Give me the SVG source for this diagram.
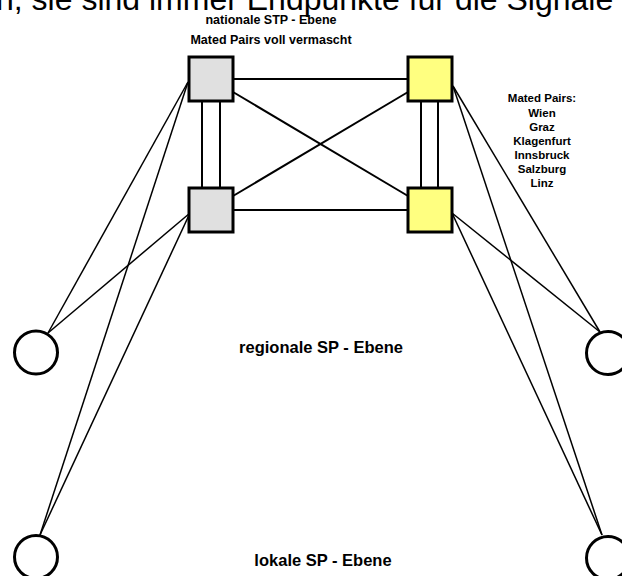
<svg xmlns="http://www.w3.org/2000/svg" width="622" height="576" viewBox="0 0 622 576">
  <style>
    .lbl { font-family: "Liberation Sans", Arial, sans-serif; font-weight: bold; fill: #000; text-anchor: middle; }
    .head { font-family: "Liberation Sans", Arial, sans-serif; fill: #000; }
    .stp { stroke: #000; stroke-width: 3; }
    .grey { fill: #e0e0e0; }
    .yellow { fill: #ffff80; }
    .sp { fill: #fff; stroke: #000; stroke-width: 3; }
    .link { stroke: #000; stroke-width: 2; fill: none; }
    .access { stroke: #000; stroke-width: 1.5; fill: none; }
  </style>

  <!-- heading line running off the top edge -->
  <text class="head" x="-4" y="10" font-size="32">n, sie sind immer Endpunkte für die Signale</text>

  <!-- level labels -->
  <text class="lbl" x="271" y="24" font-size="12.5">nationale STP - Ebene</text>
  <text class="lbl" x="271" y="44" font-size="12.5">Mated Pairs voll vermascht</text>
  <text class="lbl" x="321" y="353" font-size="16.5">regionale SP - Ebene</text>
  <text class="lbl" x="323" y="566" font-size="16.5">lokale SP - Ebene</text>

  <g id="mated-pairs-legend" class="lbl" font-size="11.5">
    <text x="542" y="102">Mated Pairs:</text>
    <text x="542" y="116.5">Wien</text>
    <text x="542" y="131">Graz</text>
    <text x="542" y="145">Klagenfurt</text>
    <text x="542" y="159">Innsbruck</text>
    <text x="542" y="173">Salzburg</text>
    <text x="542" y="187">Linz</text>
  </g>

  <!-- connectors -->
  <g id="connectors">
    <!-- STP mesh -->
    <line class="link" x1="233" y1="79" x2="408" y2="79"/>
    <line class="link" x1="233" y1="210" x2="408" y2="210"/>
    <line class="link" x1="202" y1="101" x2="202" y2="188"/>
    <line class="link" x1="220" y1="101" x2="220" y2="188"/>
    <line class="link" x1="421" y1="101" x2="421" y2="188"/>
    <line class="link" x1="438" y1="101" x2="438" y2="188"/>
    <line class="link" x1="233" y1="92" x2="408" y2="196"/>
    <line class="link" x1="233" y1="196" x2="408" y2="92"/>
    <!-- SP attachments, left -->
    <line class="access" x1="188" y1="82" x2="48" y2="333"/>
    <line class="access" x1="188" y1="82" x2="40" y2="535"/>
    <line class="access" x1="190" y1="213" x2="48" y2="333"/>
    <line class="access" x1="190" y1="213" x2="40" y2="535"/>
    <!-- SP attachments, right -->
    <line class="access" x1="453" y1="86" x2="600" y2="332"/>
    <line class="access" x1="453" y1="86" x2="602" y2="535"/>
    <line class="access" x1="452" y1="213" x2="600" y2="332"/>
    <line class="access" x1="452" y1="213" x2="602" y2="535"/>
  </g>

  <!-- national STP nodes -->
  <g id="stp-top-left"><rect class="stp grey" x="189" y="57" width="44" height="44"/></g>
  <g id="stp-bottom-left"><rect class="stp grey" x="189" y="188" width="44" height="44"/></g>
  <g id="stp-top-right"><rect class="stp yellow" x="408" y="57" width="44" height="44"/></g>
  <g id="stp-bottom-right"><rect class="stp yellow" x="408" y="188" width="44" height="44"/></g>

  <!-- regional / local SP nodes -->
  <g id="sp-regional-left"><circle class="sp" cx="36" cy="352.5" r="21.5"/></g>
  <g id="sp-local-left"><circle class="sp" cx="36" cy="557" r="21.5"/></g>
  <g id="sp-regional-right"><circle class="sp" cx="608" cy="353" r="21.5"/></g>
  <g id="sp-local-right"><circle class="sp" cx="608" cy="558" r="21.5"/></g>
</svg>
